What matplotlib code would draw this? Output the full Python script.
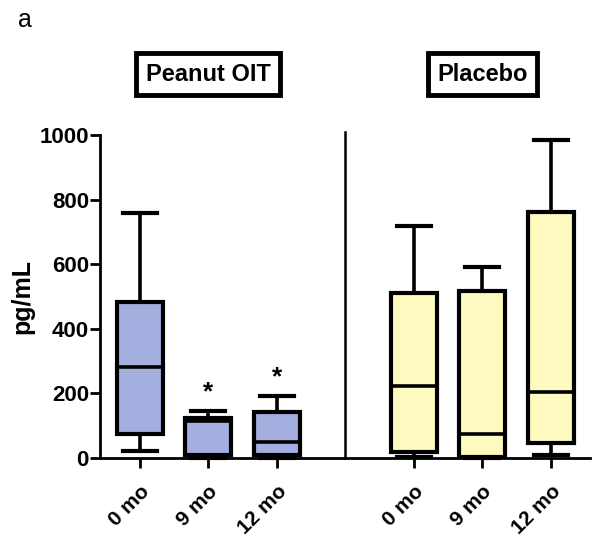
import matplotlib.pyplot as plt

# values (pg/mL)
groups = ["Peanut OIT", "Placebo"]
tick_labels = ["0 mo", "9 mo", "12 mo", "0 mo", "9 mo", "12 mo"]
whislo = [22, 0, 0, 3, 0, 8]
q1 = [74, 8, 10, 19, 3, 46]
med = [282, 115, 50, 223, 74, 205]
q3 = [483, 124, 142, 511, 517, 762]
whishi = [758, 145, 192, 718, 591, 985]
star_y = [205, 250]

blue = "#a5afdf"
yellow = "#fffbc0"

plt.rcParams['font.family'] = ['Liberation Sans', 'DejaVu Sans']

fig = plt.figure(figsize=(6, 5.47), dpi=100)
ax = fig.add_axes([0.1667, 0.1627, 0.8163, 0.59])

pos = [0, 1, 2, 4, 5, 6]
stats = []
for i in range(6):
    stats.append(dict(whislo=whislo[i], q1=q1[i], med=med[i], q3=q3[i],
                      whishi=whishi[i], fliers=[]))

bp = ax.bxp(stats, positions=pos, widths=0.67, capwidths=0.5,
            patch_artist=True, showfliers=False,
            boxprops=dict(linewidth=3, edgecolor='black'),
            medianprops=dict(color='black', linewidth=2.6),
            whiskerprops=dict(color='black', linewidth=2.6),
            capprops=dict(color='black', linewidth=3))
for i, b in enumerate(bp['boxes']):
    b.set_facecolor(blue if i < 3 else yellow)
for art in bp['boxes'] + bp['medians'] + bp['whiskers'] + bp['caps']:
    art.set_clip_on(False)

# divider between the groups
ax.plot([3, 3], [0, 1010], color='black', lw=1.8, clip_on=False)

# significance stars
ax.text(1, star_y[0], "*", ha='center', va='center', fontsize=19, fontweight='bold')
ax.text(2, star_y[1], "*", ha='center', va='center', fontsize=19, fontweight='bold')

ax.set_xlim(-0.58, 6.57)
ax.set_ylim(0, 1000)
ax.set_yticks([0, 200, 400, 600, 800, 1000])
ax.set_xticks(pos)
ax.set_xticklabels(tick_labels, rotation=45, ha='right', rotation_mode='anchor',
                   fontsize=15, fontweight='bold')
for lab in ax.get_yticklabels():
    lab.set_fontweight('bold')
    lab.set_fontsize(16)
ax.tick_params(axis='x', length=7, width=2, pad=10)
ax.tick_params(axis='y', length=7, width=2, pad=1)
ax.set_ylabel("pg/mL", fontsize=18, fontweight='bold', labelpad=4)

for s in ['top', 'right']:
    ax.spines[s].set_visible(False)
for s in ['left', 'bottom']:
    ax.spines[s].set_linewidth(2)

# group titles in boxes
for x, g in zip([1, 5], groups):
    ax.text(x, 1189, g, ha='center', va='center', fontsize=17, fontweight='bold',
            bbox=dict(boxstyle='square,pad=0.4', fc='white', ec='black', lw=3.5))

fig.text(0.03, 0.985, "a", fontsize=18, va='top', ha='left')

fig.savefig("out.png", dpi=100)
